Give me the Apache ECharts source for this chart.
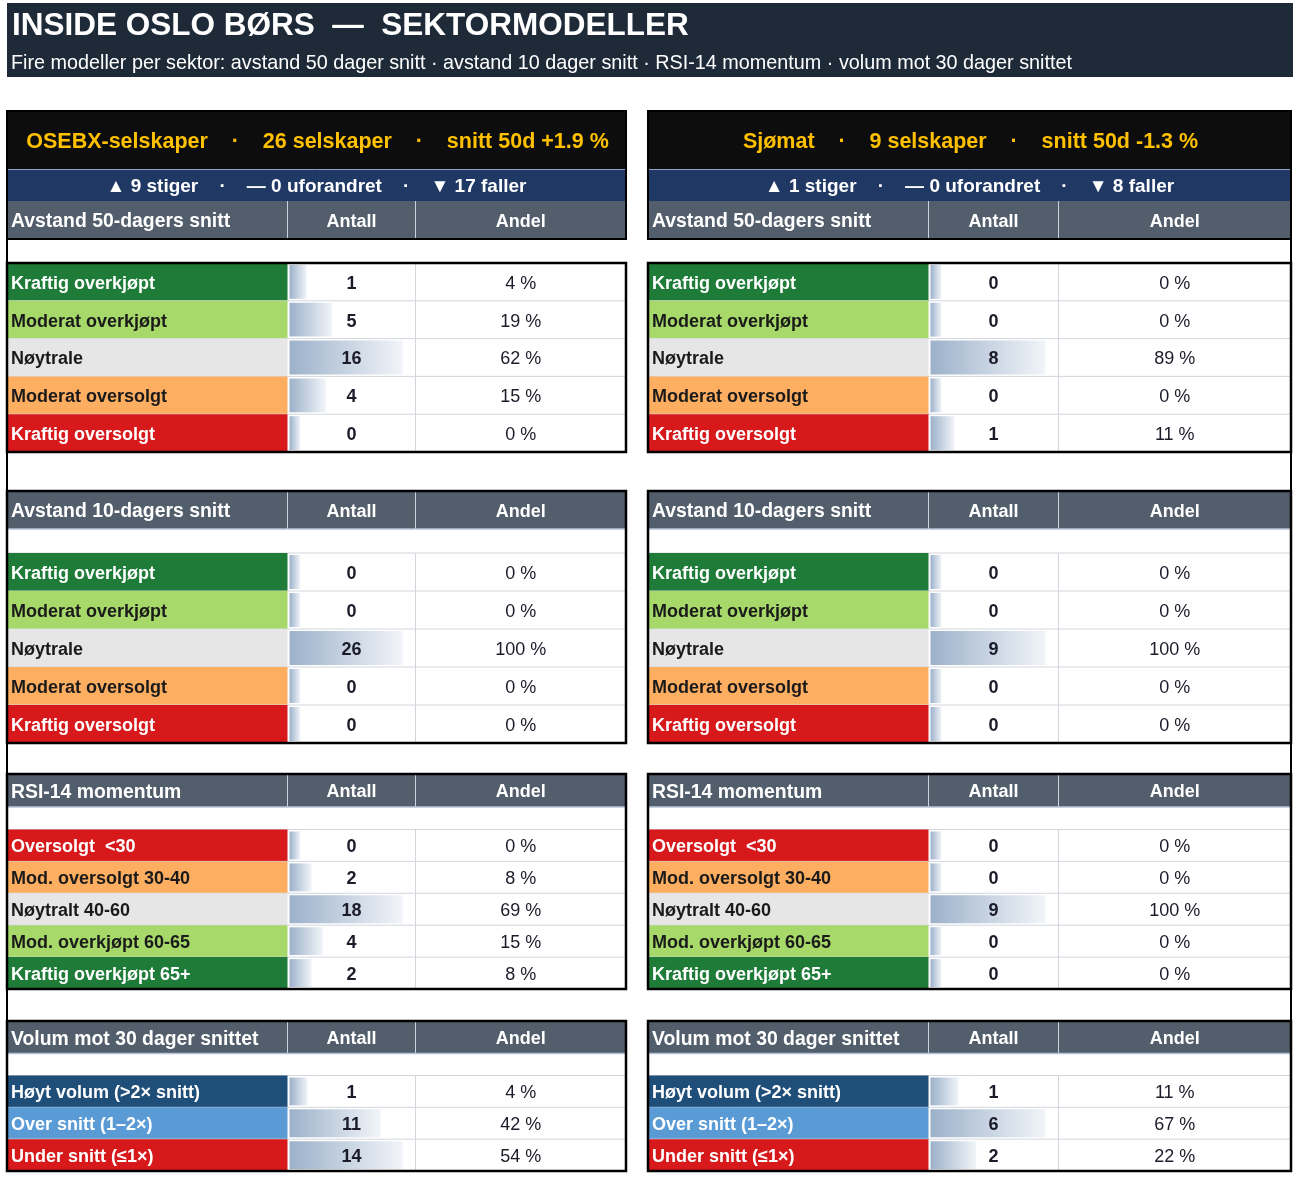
<!DOCTYPE html>
<html lang="no">
<head>
    <meta charset="UTF-8" />
    <title>Inside Oslo Børs - sektormodeller</title>
    <style>html, body { margin: 0; padding: 0; background: #fff; }</style>
</head>
<body>
<div id="main" style="width: 1300px; height: 1178px;"></div>
<script src="https://cdn.jsdelivr.net/npm/echarts@6/dist/echarts.min.js"></script>
<script type="text/javascript">
// ---- data ----
var tittel = 'INSIDE OSLO BØRS  —  SEKTORMODELLER';
var undertittel = 'Fire modeller per sektor: avstand 50 dager snitt · avstand 10 dager snitt · RSI-14 momentum · volum mot 30 dager snittet';

var sektorer = ['OSEBX-selskaper', 'Sjømat'];
var antallSelskaper = [26, 9];
var snitt50d = ['+1.9 %', '-1.3 %'];
var stiger = [9, 1];
var uforandret = [0, 0];
var faller = [17, 8];

var modeller = ['Avstand 50-dagers snitt', 'Avstand 10-dagers snitt', 'RSI-14 momentum', 'Volum mot 30 dager snittet'];
var kategorierSnitt = ['Kraftig overkjøpt', 'Moderat overkjøpt', 'Nøytrale', 'Moderat oversolgt', 'Kraftig oversolgt'];
var kategorierRsi = ['Oversolgt  <30', 'Mod. oversolgt 30-40', 'Nøytralt 40-60', 'Mod. overkjøpt 60-65', 'Kraftig overkjøpt 65+'];
var kategorierVolum = ['Høyt volum (>2× snitt)', 'Over snitt (1–2×)', 'Under snitt (≤1×)'];

var osebx50Antall = [1, 5, 16, 4, 0];
var osebx50Andel = [4, 19, 62, 15, 0];
var osebx10Antall = [0, 0, 26, 0, 0];
var osebx10Andel = [0, 0, 100, 0, 0];
var osebxRsiAntall = [0, 2, 18, 4, 2];
var osebxRsiAndel = [0, 8, 69, 15, 8];
var osebxVolumAntall = [1, 11, 14];
var osebxVolumAndel = [4, 42, 54];

var sjomat50Antall = [0, 0, 8, 0, 1];
var sjomat50Andel = [0, 0, 89, 0, 11];
var sjomat10Antall = [0, 0, 9, 0, 0];
var sjomat10Andel = [0, 0, 100, 0, 0];
var sjomatRsiAntall = [0, 0, 9, 0, 0];
var sjomatRsiAndel = [0, 0, 100, 0, 0];
var sjomatVolumAntall = [1, 6, 2];
var sjomatVolumAndel = [11, 67, 22];

// ---- farger ----
var fargerSnitt = ['#1e7b38', '#a6d96a', '#e6e6e6', '#fdae61', '#d7191c'];
var tekstSnitt = ['#fff', '#1a1a1a', '#1a1a1a', '#1a1a1a', '#fff'];
var fargerRsi = ['#d7191c', '#fdae61', '#e6e6e6', '#a6d96a', '#1e7b38'];
var tekstRsi = ['#fff', '#1a1a1a', '#1a1a1a', '#1a1a1a', '#fff'];
var fargerVolum = ['#1f4e79', '#5b9bd5', '#d7191c'];
var tekstVolum = ['#fff', '#fff', '#fff'];

// ---- layout ----
var FONT = "'Liberation Sans', Arial, Helvetica, sans-serif";
var panelX = [7, 648];
var panelW = [619, 643];
var labelW = 280.5;
var antallW = [128, 130];
var andelW = [210.5, 232.5];
var seksjoner = [
    { head: 201, headH: 38, rows: 263, bottom: 452 },
    { head: 491, headH: 38, rows: 553, bottom: 743 },
    { head: 774, headH: 33, rows: 829.5, bottom: 989 },
    { head: 1021, headH: 32.5, rows: 1075.5, bottom: 1171 }
];

var tabeller = [
    [
        [kategorierSnitt, fargerSnitt, tekstSnitt, osebx50Antall, osebx50Andel],
        [kategorierSnitt, fargerSnitt, tekstSnitt, osebx10Antall, osebx10Andel],
        [kategorierRsi, fargerRsi, tekstRsi, osebxRsiAntall, osebxRsiAndel],
        [kategorierVolum, fargerVolum, tekstVolum, osebxVolumAntall, osebxVolumAndel]
    ],
    [
        [kategorierSnitt, fargerSnitt, tekstSnitt, sjomat50Antall, sjomat50Andel],
        [kategorierSnitt, fargerSnitt, tekstSnitt, sjomat10Antall, sjomat10Andel],
        [kategorierRsi, fargerRsi, tekstRsi, sjomatRsiAntall, sjomatRsiAndel],
        [kategorierVolum, fargerVolum, tekstVolum, sjomatVolumAntall, sjomatVolumAndel]
    ]
];

// en rad i tabellen: fargecelle, databar (Excel-stil 10%-90%), antall og andel
function lagRad(p, labels, farger, tekst, andel, xmin) {
    return function (params, api) {
        var i = api.value(1);
        var cs = params.coordSys;
        var c0 = api.coord([xmin, i]);
        var c1 = api.coord([api.value(0), i]);
        var h = api.size([0, 1])[1];
        var top = c0[1] - h / 2;
        var left = cs.x - labelW;
        var right = cs.x + cs.width + andelW[p];
        var ty = c0[1] + 2;
        return {
            type: 'group',
            children: [
                { type: 'rect', shape: { x: left, y: top, width: labelW, height: h }, style: { fill: farger[i] } },
                {
                    type: 'rect',
                    shape: { x: c0[0] + 2, y: top + 2, width: c1[0] - c0[0] - 2, height: h - 4 },
                    style: {
                        fill: new echarts.graphic.LinearGradient(0, 0, 1, 0, [
                            { offset: 0, color: '#9cb1ca' },
                            { offset: 1, color: '#f2f5f9' }
                        ])
                    }
                },
                { type: 'line', shape: { x1: left, y1: top + h, x2: right, y2: top + h }, style: { stroke: '#d3d6dd', lineWidth: 1 } },
                { type: 'line', shape: { x1: cs.x + cs.width, y1: top, x2: cs.x + cs.width, y2: top + h }, style: { stroke: '#d3d6dd', lineWidth: 1 } },
                {
                    type: 'text', x: left + 4, y: ty,
                    style: { text: labels[i], fill: tekst[i], font: 'bold 18px ' + FONT, align: 'left', verticalAlign: 'middle' }
                },
                {
                    type: 'text', x: cs.x + cs.width / 2, y: ty,
                    style: { text: String(api.value(0)), fill: '#1b1b2a', font: 'bold 18px ' + FONT, align: 'center', verticalAlign: 'middle' }
                },
                {
                    type: 'text', x: cs.x + cs.width + andelW[p] / 2, y: ty,
                    style: { text: andel[i] + ' %', fill: '#1b1b2a', font: '18px ' + FONT, align: 'center', verticalAlign: 'middle' }
                }
            ]
        };
    };
}

var grids = [], xAxes = [], yAxes = [], series = [], graphics = [];

// tittel
graphics.push({ type: 'rect', shape: { x: 7, y: 3, width: 1286, height: 74 }, style: { fill: '#1e2a38' } });
graphics.push({ type: 'text', x: 12, y: 26, style: { text: tittel, fill: '#fff', font: 'bold 31.5px ' + FONT, verticalAlign: 'middle' } });
graphics.push({ type: 'text', x: 11, y: 64, style: { text: undertittel, fill: '#fff', font: '19.8px ' + FONT, verticalAlign: 'middle' } });

for (var p = 0; p < 2; p++) {
    var px = panelX[p], pw = panelW[p], mid = px + pw / 2;
    var xAntall = px + labelW, xAndel = px + labelW + antallW[p];

    graphics.push({ type: 'rect', shape: { x: px, y: 111, width: pw, height: 58 }, style: { fill: '#0d0d0d' } });
    graphics.push({
        type: 'text', x: mid + 1, y: 142,
        style: {
            text: sektorer[p] + '    ·    ' + antallSelskaper[p] + ' selskaper    ·    snitt 50d ' + snitt50d[p],
            fill: '#ffc000', font: 'bold 21.5px ' + FONT, align: 'center', verticalAlign: 'middle'
        }
    });
    graphics.push({ type: 'rect', shape: { x: px, y: 169, width: pw, height: 32 }, style: { fill: '#1f3864' } });
    graphics.push({ type: 'line', shape: { x1: px, y1: 169.5, x2: px + pw, y2: 169.5 }, style: { stroke: '#8ea3c4', lineWidth: 1 } });
    graphics.push({
        type: 'text', x: mid, y: 187,
        style: {
            text: '▲ ' + stiger[p] + ' stiger    ·    — ' + uforandret[p] + ' uforandret    ·    ▼ ' + faller[p] + ' faller',
            fill: '#fff', font: 'bold 19px ' + FONT, align: 'center', verticalAlign: 'middle'
        }
    });

    for (var s = 0; s < 4; s++) {
        var L = seksjoner[s];
        var t = tabeller[p][s];
        var labels = t[0], antall = t[3];
        var M = Math.max.apply(null, antall);
        var hy = L.head + L.headH / 2 + 2;

        // kolonneoverskrift
        graphics.push({ type: 'rect', shape: { x: px, y: L.head, width: pw, height: L.headH }, style: { fill: '#525e6b' } });
        graphics.push({ type: 'line', shape: { x1: xAntall, y1: L.head, x2: xAntall, y2: L.head + L.headH }, style: { stroke: '#c9d2dd', lineWidth: 1 } });
        graphics.push({ type: 'line', shape: { x1: xAndel, y1: L.head, x2: xAndel, y2: L.head + L.headH }, style: { stroke: '#c9d2dd', lineWidth: 1 } });
        graphics.push({ type: 'line', shape: { x1: px, y1: L.head + L.headH, x2: px + pw, y2: L.head + L.headH }, style: { stroke: '#b4c4da', lineWidth: 1.5 } });
        graphics.push({ type: 'text', x: px + 4, y: hy, style: { text: modeller[s], fill: '#fff', font: 'bold 19.4px ' + FONT, verticalAlign: 'middle' } });
        graphics.push({ type: 'text', x: xAntall + antallW[p] / 2, y: hy, style: { text: 'Antall', fill: '#fff', font: 'bold 18px ' + FONT, align: 'center', verticalAlign: 'middle' } });
        graphics.push({ type: 'text', x: xAndel + andelW[p] / 2, y: hy, style: { text: 'Andel', fill: '#fff', font: 'bold 18px ' + FONT, align: 'center', verticalAlign: 'middle' } });
        graphics.push({ type: 'line', shape: { x1: px, y1: L.rows, x2: px + pw, y2: L.rows }, style: { stroke: '#d3d6dd', lineWidth: 1 } });

        // svarte rammer
        if (s === 0) {
            graphics.push({ type: 'rect', z: 10, shape: { x: px, y: 111, width: pw, height: L.head + L.headH - 111 }, style: { fill: 'none', stroke: '#000', lineWidth: 2 } });
            graphics.push({ type: 'rect', z: 10, shape: { x: px, y: L.rows, width: pw, height: L.bottom - L.rows }, style: { fill: 'none', stroke: '#000', lineWidth: 2.5 } });
        } else {
            graphics.push({ type: 'rect', z: 10, shape: { x: px, y: L.head, width: pw, height: L.bottom - L.head }, style: { fill: 'none', stroke: '#000', lineWidth: 2.5 } });
        }

        var gi = grids.length;
        grids.push({ left: xAntall, top: L.rows, width: antallW[p], height: L.bottom - L.rows });
        xAxes.push({ gridIndex: gi, type: 'value', min: -M / 8, max: 9 * M / 8, show: false });
        yAxes.push({ gridIndex: gi, type: 'category', data: labels, inverse: true, show: false });
        series.push({
            type: 'custom',
            xAxisIndex: gi,
            yAxisIndex: gi,
            silent: true,
            encode: { x: 0, y: 1 },
            renderItem: lagRad(p, labels, t[1], t[2], t[4], -M / 8),
            data: antall.map(function (v, i) { return [v, i]; })
        });
    }
}

// gjennomgående ytre kanter
graphics.push({ type: 'line', z: 10, shape: { x1: 7, y1: 111, x2: 7, y2: 1171 }, style: { stroke: '#000', lineWidth: 2 } });
graphics.push({ type: 'line', z: 10, shape: { x1: 1291, y1: 111, x2: 1291, y2: 1171 }, style: { stroke: '#000', lineWidth: 2 } });

var myChart = echarts.init(document.getElementById('main'));
myChart.setOption({
    animation: false,
    backgroundColor: '#fff',
    tooltip: { show: false },
    grid: grids,
    xAxis: xAxes,
    yAxis: yAxes,
    series: series,
    graphic: { elements: graphics }
});
</script>
</body>
</html>
